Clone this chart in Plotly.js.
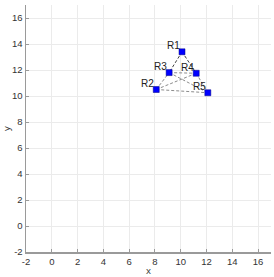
<!DOCTYPE html>
<html><head><meta charset="utf-8">
<script src="https://cdn.plot.ly/plotly-3.0.1.min.js"></script>
<style>html,body{margin:0;padding:0;background:#fff}</style>
</head><body><div id="chart" style="width:274px;height:277px"></div>
<script>
const names = ['R1','R2','R3','R4','R5'];
const xs = [10.1, 8.1, 9.1, 11.2, 12.1];
const ys = [13.4, 10.5, 11.8, 11.75, 10.25];
const darkEdges = [[0,2],[0,3]];
const lightEdges = [[1,2],[3,4],[2,3],[2,4],[1,3],[1,4]];
const tickVals = [-2,0,2,4,6,8,10,12,14,16];

function edgeTrace(edges, color){
  const ex=[], ey=[];
  edges.forEach(([a,b])=>{ex.push(xs[a],xs[b],null); ey.push(ys[a],ys[b],null);});
  return {x:ex,y:ey,mode:'lines',type:'scatter',line:{color:color,width:1,dash:'3px,2px'},hoverinfo:'skip'};
}
const traces = [
  edgeTrace(lightEdges,'#8c8c8c'),
  edgeTrace(darkEdges,'#404040'),
  {x:xs,y:ys,mode:'markers',type:'scatter',
   marker:{symbol:'square',size:6,color:'#0000ff',line:{color:'#000080',width:0.5}}}
];
const annotations = names.map((n,i)=>({x:xs[i],y:ys[i],text:n,showarrow:false,xanchor:'right',yanchor:'middle',
  xshift:0,yshift:6,font:{family:'Liberation Sans, Arial, sans-serif',size:10,color:'#222'}}));
const axisCommon = {range:[-2,17],tickvals:tickVals,ticktext:tickVals.map(String),showgrid:true,gridcolor:'#ebebeb',gridwidth:1,
  zeroline:false,showline:true,linecolor:'#9a9a9a',linewidth:1.5,ticks:'inside',ticklen:3,tickcolor:'#9a9a9a',
  tickfont:{family:'Liberation Sans, Arial, sans-serif',size:9.5,color:'#333'}};
const layout = {
  width:274,height:277,margin:{l:26,r:3,t:5,b:25},showlegend:false,annotations:annotations,
  paper_bgcolor:'#fff',plot_bgcolor:'#fff',
  xaxis:Object.assign({},axisCommon,{title:{text:'x',font:{size:9.5,color:'#333'},standoff:3}}),
  yaxis:Object.assign({},axisCommon,{title:{text:'y',font:{size:9.5,color:'#333'},standoff:4}})
};
Plotly.newPlot('chart',traces,layout,{staticPlot:true,displayModeBar:false});
</script></body></html>
